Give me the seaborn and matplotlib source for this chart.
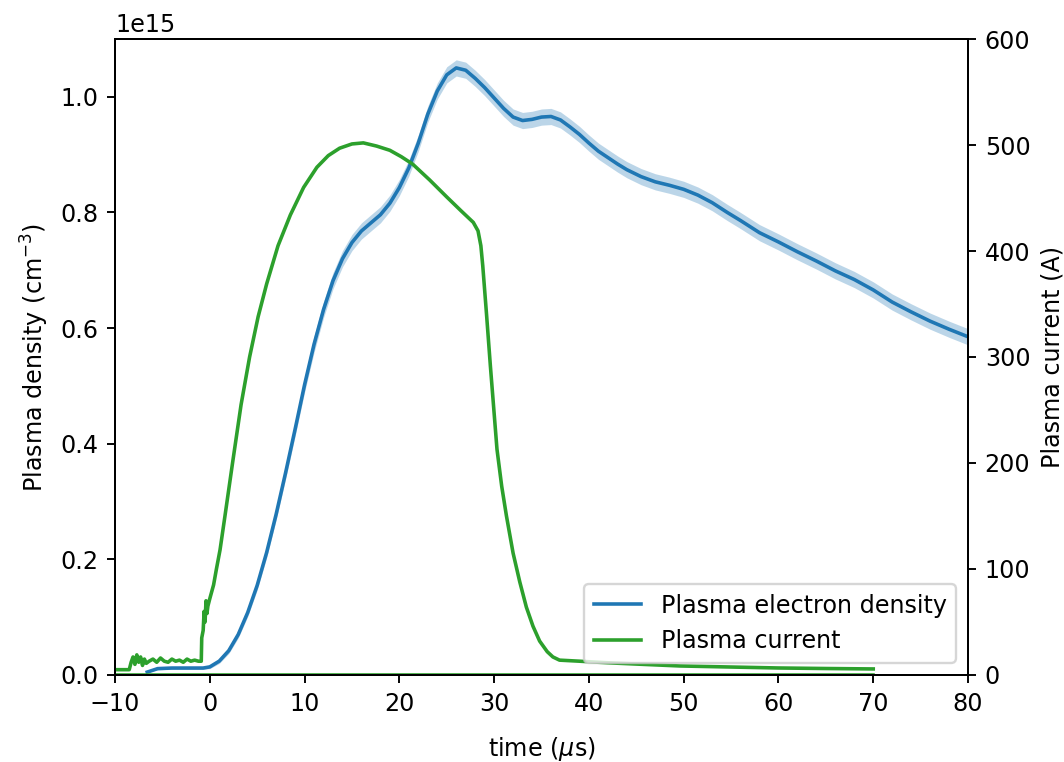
import matplotlib
matplotlib.use("Agg")
import matplotlib.pyplot as plt
import numpy as np
import pandas as pd
import seaborn as sns

# Plasma electron density (units of 1e15 cm^-3) versus time (µs)
dens_time = [-6.6, -5.5, -4.0, -2.0, -0.7, 0.0, 1.0, 2.0, 3.0, 4.0, 5.0, 6.0,
             7.0, 8.0, 9.0, 10.0, 11.0, 12.0, 13.0, 14.0, 15.0, 16.0, 17.0,
             18.0, 19.0, 20.0, 21.0, 22.0, 23.0, 24.0, 25.0, 26.0, 27.0, 28.0,
             29.0, 30.0, 31.0, 32.0, 33.0, 34.0, 35.0, 36.0, 37.0, 38.0, 39.0,
             40.0, 41.0, 42.0, 43.0, 44.0, 45.5, 47.0, 48.5, 50.0, 51.5, 53.0,
             54.6, 56.0, 58.0, 60.0, 62.0, 64.0, 66.0, 68.0, 70.0, 72.0, 74.0,
             76.0, 78.0, 80.0]
dens_value = [0.005, 0.011, 0.012, 0.012, 0.012, 0.014, 0.024, 0.042, 0.070, 0.108,
              0.155, 0.212, 0.278, 0.350, 0.425, 0.502, 0.572, 0.632, 0.682, 0.720,
              0.748, 0.768, 0.782, 0.796, 0.816, 0.843, 0.877, 0.920, 0.970, 1.010,
              1.038, 1.050, 1.046, 1.032, 1.016, 0.998, 0.980, 0.965, 0.959, 0.961,
              0.965, 0.966, 0.960, 0.948, 0.935, 0.920, 0.906, 0.895, 0.884, 0.874,
              0.862, 0.853, 0.847, 0.840, 0.830, 0.817, 0.800, 0.786, 0.765, 0.749,
              0.732, 0.716, 0.699, 0.684, 0.666, 0.645, 0.628, 0.612, 0.598, 0.585]
# Half-width of the density uncertainty band (same units)
dens_err = [0.001, 0.002, 0.002, 0.002, 0.002, 0.003, 0.004, 0.005, 0.006, 0.007,
            0.008, 0.009, 0.010, 0.011, 0.012, 0.013, 0.014, 0.014, 0.014, 0.014,
            0.014, 0.014, 0.014, 0.014, 0.014, 0.014, 0.014, 0.014, 0.014, 0.014,
            0.014, 0.014, 0.014, 0.014, 0.014, 0.014, 0.014, 0.014, 0.014, 0.014,
            0.014, 0.014, 0.014, 0.014, 0.014, 0.014, 0.014, 0.014, 0.014, 0.014,
            0.014, 0.014, 0.014, 0.014, 0.014, 0.014, 0.014, 0.014, 0.014, 0.014,
            0.014, 0.014, 0.014, 0.014, 0.014, 0.014, 0.014, 0.014, 0.014, 0.014]

# Discharge current (A) versus time (µs)
curr_time = [-10.0, -8.5, -8.3, -8.1, -7.9, -7.7, -7.5, -7.3, -7.1, -6.9, -6.7, -6.4,
             -6.0, -5.6, -5.2, -4.8, -4.4, -4.0, -3.6, -3.2, -2.8, -2.4, -2.0, -1.6,
             -1.2, -0.9, -0.85, -0.7, -0.6, -0.5, -0.4, -0.3, -0.2, 0.0, 0.4,
             0.7, 1.08, 1.6, 2.4, 3.3, 4.2, 5.1, 6.0, 7.2, 8.5, 9.9, 11.3, 12.5,
             13.7, 15.0, 16.2, 17.6, 19.0, 20.2, 21.4, 23.2, 25.0, 26.5, 27.8, 28.3,
             28.6, 28.8, 29.2, 29.6, 30.3, 30.8, 31.3, 32.0, 32.7, 33.4, 34.1, 34.8,
             35.6, 36.2, 36.9, 39.0, 42.0, 45.0, 49.6, 55.0, 60.0, 65.0, 70.0]
curr_value = [5, 5, 12, 17, 10, 19, 12, 17, 9, 15, 11, 13,
              15, 12, 16, 13, 12, 15, 13, 14, 12, 15, 13, 14,
              13, 13, 35, 42, 60, 50, 70, 58, 65, 72, 85,
              100, 118, 150, 200, 255, 300, 338, 369, 405, 434, 460, 479, 490,
              497, 501, 502, 499, 495, 489, 482, 467, 451, 438, 427, 419,
              405, 386, 340, 292, 213, 178, 150, 115, 88, 64, 46, 32,
              22, 17, 14, 13, 11.5, 10.3, 8.5, 7.5, 6.6, 6.1, 5.7]

dens = pd.DataFrame({"time": dens_time,
                     "density": np.array(dens_value) * 1e15,
                     "err": np.array(dens_err) * 1e15})
curr = pd.DataFrame({"time": curr_time, "current": curr_value})

blue = "#1f77b4"
green = "#2ca02c"

fig = plt.figure(figsize=(1064 / 172, 762 / 172), dpi=172)
ax1 = fig.add_axes([0.1081, 0.1142, 0.8017, 0.8346])

ax1.fill_between(dens["time"], dens["density"] - dens["err"],
                 dens["density"] + dens["err"], color=blue, alpha=0.3, lw=0)
sns.lineplot(data=dens, x="time", y="density", ax=ax1, color=blue, lw=1.5,
             label="Plasma electron density")
# current drawn on the density axis too, where it sits at ~0
sns.lineplot(data=curr, x="time", y="current", ax=ax1, color=green, lw=1.5)

ax1.set_xlim(-10, 80)
ax1.set_ylim(0, 1.1e15)
ax1.set_xlabel(r"time ($\mu$s)", labelpad=8)
ax1.set_ylabel(r"Plasma density (cm$^{-3}$)")
if ax1.legend_:
    ax1.legend_.remove()

ax2 = ax1.twinx()
sns.lineplot(data=curr, x="time", y="current", ax=ax2, color=green, lw=1.5,
             label="Plasma current")
ax2.set_ylim(0, 600)
ax2.set_ylabel("Plasma current (A)")
if ax2.legend_:
    ax2.legend_.remove()

h1, l1 = ax1.get_legend_handles_labels()
h2, l2 = ax2.get_legend_handles_labels()
ax2.legend(h1 + h2, l1 + l2, loc="lower right")

fig.savefig("out.png", dpi=172)
